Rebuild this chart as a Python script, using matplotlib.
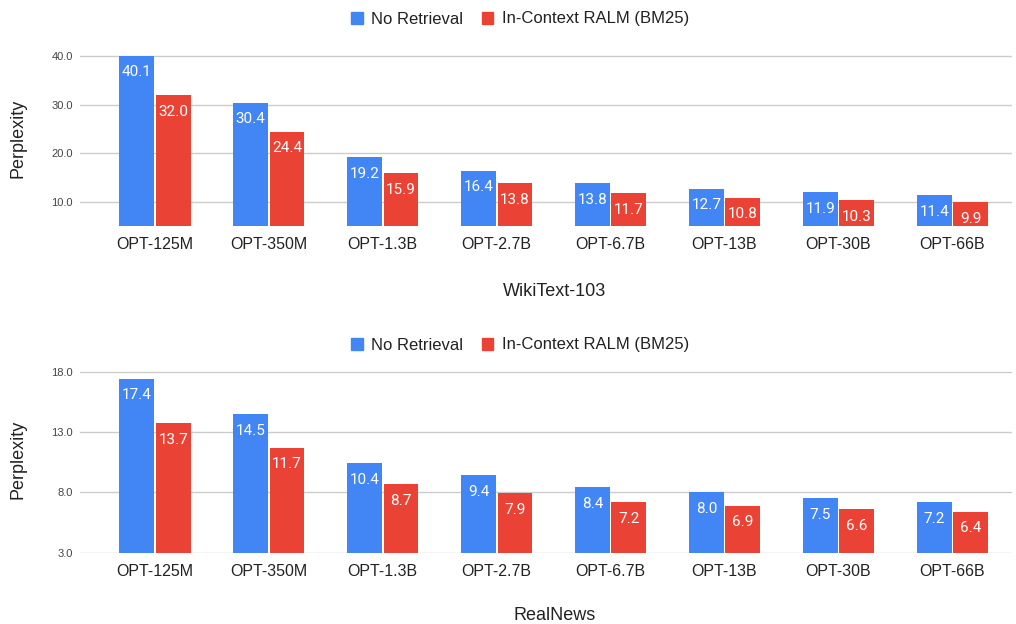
import numpy as np
import matplotlib.pyplot as plt
from matplotlib.patches import Patch

models = ['OPT-125M', 'OPT-350M', 'OPT-1.3B', 'OPT-2.7B', 'OPT-6.7B', 'OPT-13B', 'OPT-30B', 'OPT-66B']
series_names = ['No Retrieval', 'In-Context RALM (BM25)']

wiki_none = [40.1, 30.4, 19.2, 16.4, 13.8, 12.7, 11.9, 11.4]
wiki_ralm = [32.0, 24.4, 15.9, 13.8, 11.7, 10.8, 10.3, 9.9]
news_none = [17.4, 14.5, 10.4, 9.4, 8.4, 8.0, 7.5, 7.2]
news_ralm = [13.7, 11.7, 8.7, 7.9, 7.2, 6.9, 6.6, 6.4]

wiki_ticks = [10, 20, 30, 40]
news_ticks = [3, 8, 13, 18]

blue = '#4285F4'
red = '#EA4335'
width = 0.305

fig = plt.figure(figsize=(10.16, 6.24), dpi=100)
ax1 = fig.add_axes([0.0787, 0.638, 0.917, 0.280])
ax2 = fig.add_axes([0.0787, 0.1143, 0.917, 0.300])

x = np.arange(len(models))


def draw(ax, none_vals, ralm_vals, ylim, ticks, xlabel, legend_y, xlabel_y):
    b1 = ax.bar(x - 0.16, np.array(none_vals) - ylim[0], width, bottom=ylim[0], color=blue, zorder=3)
    b2 = ax.bar(x + 0.16, np.array(ralm_vals) - ylim[0], width, bottom=ylim[0], color=red, zorder=3)
    ax.set_ylim(*ylim)
    ax.set_xlim(-0.658, 7.52)
    ax.set_yticks(ticks)
    ax.set_yticklabels(['%.1f' % t for t in ticks], fontsize=8, color='#444444', family='Liberation Sans')
    ax.set_xticks(x)
    ax.set_xticklabels(models, fontsize=11.5, family='Liberation Sans', color='#222222')
    ax.tick_params(length=0, axis='both')
    ax.tick_params(axis='x', pad=8)
    ax.tick_params(axis='y', pad=5)
    ax.grid(axis='y', color='#cccccc', linewidth=1, zorder=0)
    for s in ax.spines.values():
        s.set_visible(False)
    ax.set_ylabel('Perplexity', fontsize=13, family='Liberation Sans', color='#222222')
    ax.yaxis.set_label_coords(-0.057, 0.5)
    # value labels inside the bar tops
    for bars, vals in ((b1, none_vals), (b2, ralm_vals)):
        for rect, v in zip(bars, vals):
            ax.annotate('%.1f' % v, (rect.get_x() + rect.get_width() / 2, v),
                        xytext=(0, -7), textcoords='offset points',
                        ha='center', va='top', color='white', fontsize=11, family='Roboto', zorder=4)
    fig.text(0.546, xlabel_y, xlabel, ha='center', va='center', fontsize=13,
             family='Liberation Sans', color='#222222')
    fig.legend(handles=[Patch(color=blue), Patch(color=red)], labels=series_names,
               loc='center', bbox_to_anchor=(0.512, legend_y), ncol=2, frameon=False,
               prop={'family': 'Liberation Sans', 'size': 12}, handlelength=0.7, handleheight=0.7,
               handletextpad=0.5, columnspacing=1.1, labelcolor='#222222')


draw(ax1, wiki_none, wiki_ralm, (5, 41), wiki_ticks, 'WikiText-103', 1 - 19 / 624, 1 - 291 / 624)
draw(ax2, news_none, news_ralm, (3, 18.5), news_ticks, 'RealNews', 1 - 345 / 624, 1 - 615 / 624)

fig.savefig('out.png', dpi=100)
